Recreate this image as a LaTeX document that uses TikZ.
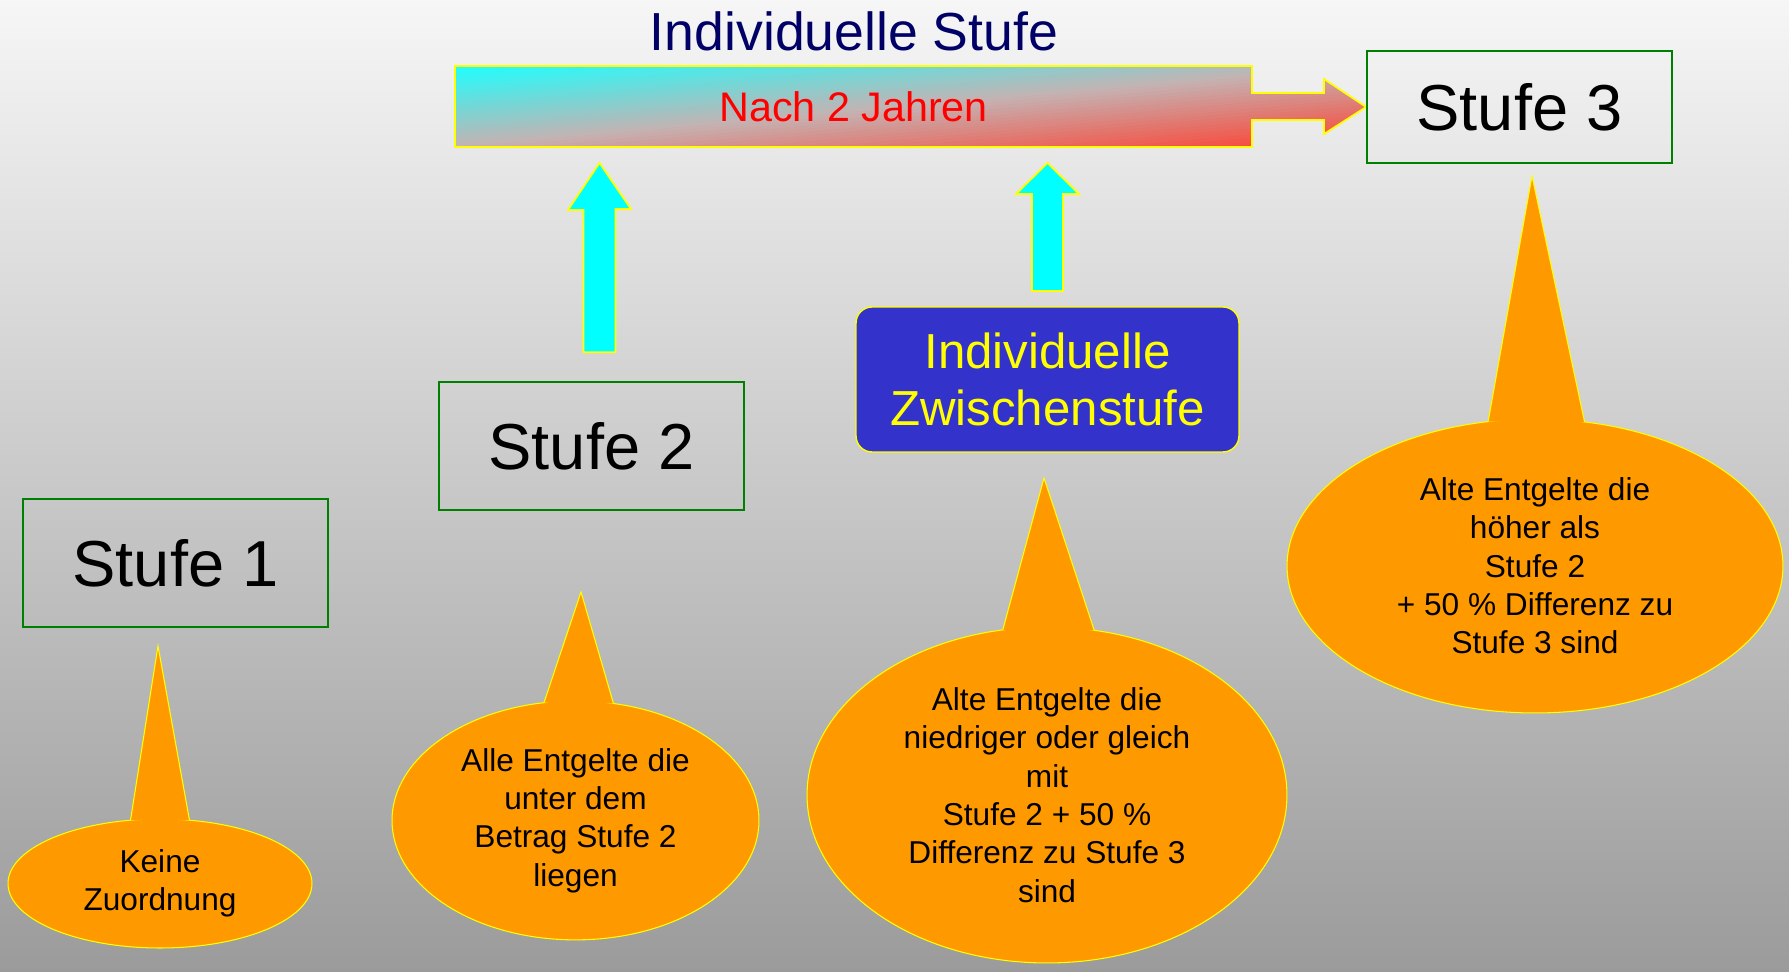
\documentclass[tikz,border=0pt]{standalone}
\usepackage{fontspec}
\setmainfont{Liberation Sans}
\usetikzlibrary{shapes.geometric}
\usetikzlibrary{calc}
\usetikzlibrary{backgrounds}

\definecolor{bgtop}{RGB}{246,246,246}
\definecolor{bgbot}{RGB}{155,155,155}
\definecolor{titelblau}{RGB}{0,0,102}
\definecolor{stufegruen}{RGB}{0,128,0}
\definecolor{zwblau}{RGB}{51,51,204}
\definecolor{blasenorange}{RGB}{255,153,0}
\definecolor{gelb}{RGB}{255,255,0}
\definecolor{tuerkis}{RGB}{0,255,255}
\definecolor{barcyan}{RGB}{30,255,255}
\definecolor{barmitte}{RGB}{196,178,178}
\definecolor{barrot}{RGB}{255,62,46}

\begin{document}
\begin{tikzpicture}[x=0.02cm, y=-0.02cm,
  stufe/.style={draw=stufegruen, line width=1pt, minimum width=6.1cm, minimum height=2.56cm, font=\fontsize{37}{44}\selectfont},
  blase/.style={ellipse, draw=gelb, line width=0.6pt, fill=blasenorange, inner sep=0pt, outer sep=0pt, align=center, font=\fontsize{18}{21.8}\selectfont},
  zipfel/.style={draw=gelb, line width=0.6pt, fill=blasenorange},
  hoch/.style={draw=gelb, line width=1pt, fill=tuerkis},
  verlauf/.style={path picture={
    \foreach \i in {0,...,49}{
      \pgfmathsetmacro\ta{\i/50}
      \pgfmathsetmacro\tb{(\i+1.4)/50}
      \ifnum\i<25
        \pgfmathsetmacro\p{(\i+0.5)*4}
        \colorlet{band}{barmitte!\p!barcyan}
      \else
        \pgfmathsetmacro\p{(\i-24.5)*4}
        \colorlet{band}{barrot!\p!barmitte}
      \fi
      \fill[band] ($(path picture bounding box.north west)!\ta!(path picture bounding box.south east)+(-1093,97)$)
        -- ($(path picture bounding box.north west)!\ta!(path picture bounding box.south east)+(1093,-97)$)
        -- ($(path picture bounding box.north west)!\tb!(path picture bounding box.south east)+(1093,-97)$)
        -- ($(path picture bounding box.north west)!\tb!(path picture bounding box.south east)+(-1093,97)$) -- cycle;
    }}}]

  \useasboundingbox (0,0) rectangle (1789,972);

  % top: title, bar, Stufe 3
  \node[text=titelblau, font=\fontsize{30.5}{36}\selectfont] (titel) at (854,31) {Individuelle Stufe};
  \node[outer sep=0pt, minimum width=15.94cm, minimum height=1.62cm,
        text=red, font=\fontsize{23.5}{28}\selectfont] (bar) at (853.5,106.5) {Nach 2 Jahren};
  \node[stufe, minimum height=2.24cm] (s3) at (1519.5,107) {Stufe 3};

  \begin{scope}[on background layer]
    \shade[top color=bgtop, bottom color=bgbot] (0,0) rectangle (1789,972);
    % bar with arrow to Stufe 3
    \draw[draw=gelb, line width=1pt, verlauf] (bar.north west) -- (bar.north east)
      -- ($(bar.east)+(0,-13.5)$) -- ($(bar.east)+(72,-13.5)$) -- ($(bar.east)+(72,-27.5)$) -- (s3.west)
      -- ($(bar.east)+(72,27.5)$) -- ($(bar.east)+(72,13.5)$) -- ($(bar.east)+(0,13.5)$)
      -- (bar.south east) -- (bar.south west) -- cycle;
  \end{scope}

  % steps
  \node[stufe] (s1) at (175.5,563) {Stufe 1};
  \node[stufe] (s2) at (591.5,446) {Stufe 2};
  \node[draw=gelb, line width=0.8pt, fill=zwblau, rounded corners=0.32cm, outer sep=0pt,
        minimum width=7.66cm, minimum height=2.9cm, text=gelb, align=center,
        font=\fontsize{28}{32.4}\selectfont] (zw) at (1047.5,379.5) {Individuelle\\Zwischenstufe};

  % arrows up
  \coordinate (f1) at ($(s2.north)+(8,-29)$);
  \coordinate (k1) at ($(f1 |- bar.south)+(0,16)$);
  \draw[hoch] ($(f1)+(-16,0)$) -- ($(f1)+(16,0)$) -- ++(0,-143) -- ++(15.5,0) -- (k1) -- ++(-31.5,47) -- ++(15.5,0) -- cycle;
  \coordinate (f2) at ($(zw.north)+(0,-16)$);
  \coordinate (k2) at ($(f2 |- bar.south)+(0,16)$);
  \draw[hoch] ($(f2)+(-15.5,0)$) -- ($(f2)+(15.5,0)$) -- ++(0,-97) -- ++(16,0) -- (k2) -- ++(-31.5,31) -- ++(16,0) -- cycle;

  % callouts
  \node[blase, minimum width=6.08cm, minimum height=2.58cm] (b1) at (160,883.5) {Keine\\Zuordnung};
  \coordinate (t1) at (158,646);
  \draw[zipfel] (b1.115.4) -- (t1) -- (b1.65.4);

  \node[blase, minimum width=7.34cm, minimum height=4.78cm] (b2) at (575.5,820.4) {Alle Entgelte die\\unter dem\\Betrag Stufe 2\\liegen};
  \coordinate (t2) at (581,592);
  \draw[zipfel] (b2.105.5) -- (t2) -- (b2.72.3);

  \node[blase, minimum width=9.6cm, minimum height=6.72cm] (b3) at (1047,795) {Alte Entgelte die\\niedriger oder gleich\\mit\\Stufe 2 + 50 \%\\Differenz zu Stufe 3\\sind};
  \coordinate (t3) at (1044,478);
  \draw[zipfel] (b3.105.9) -- (t3) -- (b3.74.7);

  \node[blase, minimum width=9.92cm, minimum height=5.88cm] (b4) at (1535,566) {Alte Entgelte die\\höher als\\Stufe 2\\+ 50 \% Differenz zu\\Stufe 3 sind};
  \coordinate (t4) at (1532,176);
  \draw[zipfel] (b4.108.4) -- (t4) -- (b4.71.9);
\end{tikzpicture}
\end{document}
